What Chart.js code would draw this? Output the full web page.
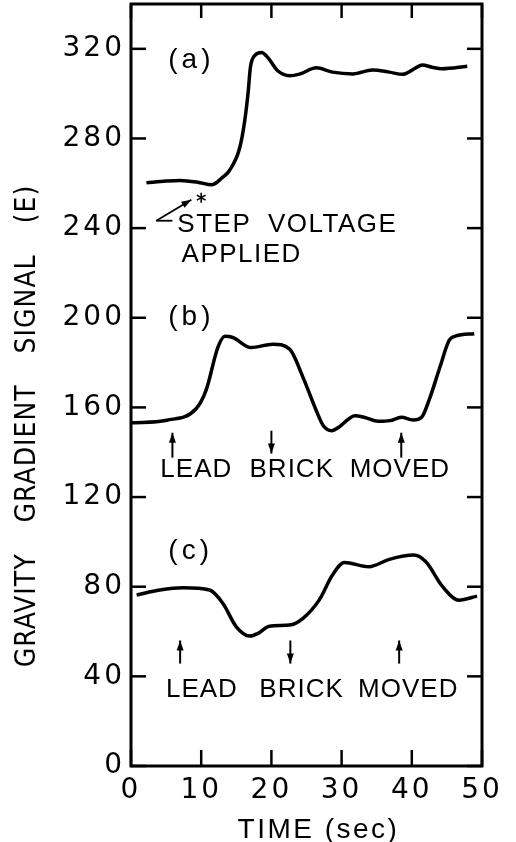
<!DOCTYPE html>
<html>
<head>
<meta charset="utf-8">
<script src="https://cdn.jsdelivr.net/npm/chart.js@4.4.1/dist/chart.umd.min.js"></script>
<style>
  html, body { margin: 0; padding: 0; background: #fff; }
  canvas { display: block; }
</style>
</head>
<body>
<canvas id="gradient-chart" width="516" height="842"></canvas>
<script>
// time axis (sec) and signal (E) for the three traces
const timeA = [2.2, 5, 7, 9.5, 11.5, 13, 14, 15.5, 16.2, 16.7, 17.0, 17.6, 18.6, 19.5, 20.9, 22.6, 24.0, 26.4, 28.7, 31.6, 34.4, 36.8, 38.7, 40.1, 41.5, 42.9, 44.3, 47.9];
const signalA = [260.2, 261, 261.3, 260.5, 259.3, 262.5, 265.6, 276, 287.9, 301, 311.6, 316.9, 318.4, 316.1, 310.2, 308, 308.7, 311.5, 309.6, 308.8, 310.6, 309.6, 308.6, 310.6, 312.8, 311.8, 311.1, 312.2];

const timeB = [0, 5.1, 9.3, 10.7, 12.4, 13.4, 14.5, 17.1, 20.2, 22.6, 24.5, 26.4, 27.4, 28.6, 29.7, 31.9, 33.3, 35.2, 36.9, 38.5, 40.2, 41.4, 42.6, 44.0, 45.3, 46.3, 48.9];
const signalB = [153.1, 154.3, 159.5, 167.7, 187, 191.7, 191.2, 186.7, 188.2, 186, 173.4, 158.5, 151.8, 149.6, 151.4, 156.3, 155.5, 153.8, 154.1, 155.6, 154.4, 155.6, 164.5, 177.9, 189.8, 191.9, 192.9];

const timeC = [0.8, 4.1, 7.4, 11.2, 13.1, 15, 16.9, 18.1, 19.7, 22.6, 24.5, 26.8, 28.7, 30.4, 33.9, 36.8, 40.3, 42, 44.4, 46.7, 49.3];
const signalC = [76.3, 78.5, 79.5, 78.5, 72.5, 62.1, 58, 59.2, 62.4, 62.9, 65.9, 74, 85.2, 90.8, 88.9, 92.2, 94.1, 91.1, 80, 74, 75.8];

const xTicks = [0, 10, 20, 30, 40, 50];
const yTicks = [0, 40, 80, 120, 160, 200, 240, 280, 320];

// when the lead brick was moved, per trace
const brickTimesB = [5.9, 20.0, 38.5];
const brickTimesC = [7.0, 22.7, 38.2];
const brickDirs = ['up', 'down', 'up'];

const toPoints = (xs, ys) => xs.map((x, i) => ({ x: x, y: ys[i] }));

const labelFont = '26px "Liberation Sans", Arial, sans-serif';

const frameAndNotes = {
  id: 'frameAndNotes',
  beforeDraw(chart) {
    chart.ctx.letterSpacing = '3px';
  },
  afterDraw(chart) {
    const c = chart.ctx;
    const xs = chart.scales.x;
    const ys = chart.scales.y;
    const a = chart.chartArea;
    const X = t => xs.getPixelForValue(t);
    const Y = v => ys.getPixelForValue(v);

    c.save();
    c.letterSpacing = '0px';
    c.strokeStyle = '#000';
    c.fillStyle = '#000';

    const line = (x1, y1, x2, y2) => {
      c.beginPath(); c.moveTo(x1, y1); c.lineTo(x2, y2); c.stroke();
    };
    const arrow = (x1, y1, x2, y2) => {
      line(x1, y1, x2, y2);
      const ang = Math.atan2(y2 - y1, x2 - x1);
      c.beginPath();
      c.moveTo(x2, y2);
      c.lineTo(x2 - 10 * Math.cos(ang) + 3.5 * Math.sin(ang), y2 - 10 * Math.sin(ang) - 3.5 * Math.cos(ang));
      c.lineTo(x2 - 10 * Math.cos(ang) - 3.5 * Math.sin(ang), y2 - 10 * Math.sin(ang) + 3.5 * Math.cos(ang));
      c.closePath();
      c.fill();
    };

    // box and inward ticks
    c.lineWidth = 3;
    c.strokeRect(a.left, a.top, a.right - a.left, a.bottom - a.top);
    c.lineWidth = 2.5;
    yTicks.forEach(v => {
      line(a.left, Y(v), a.left + 15, Y(v));
      line(a.right, Y(v), a.right - 15, Y(v));
    });
    xTicks.forEach(t => {
      line(X(t), a.bottom, X(t), a.bottom - 16);
      line(X(t), a.top, X(t), a.top + 14);
    });

    // panel letters
    c.font = '28px "Liberation Sans", Arial, sans-serif';
    c.textAlign = 'center';
    c.textBaseline = 'middle';
    c.letterSpacing = '4px';
    c.fillText('(a)', X(8.6), Y(315));
    c.fillText('(b)', X(8.6), Y(200));
    c.fillText('(c)', X(8.5), Y(95.7));

    // step voltage note
    c.font = labelFont;
    c.textAlign = 'left';
    c.letterSpacing = '1.5px';
    c.wordSpacing = '8px';
    c.fillText('STEP VOLTAGE', X(6.6), Y(241.5));
    c.fillText('APPLIED', X(7.2), Y(228));
    c.wordSpacing = '0px';
    c.lineWidth = 1.8;
    line(X(3.6), Y(243.3), X(5.9), Y(243.3));
    arrow(X(3.6), Y(243.3), X(8.6), Y(252.7));
    // asterisk
    const ax = X(10.0), ay = Y(253.6);
    c.lineWidth = 1.6;
    for (let k = 0; k < 3; k++) {
      const th = Math.PI / 2 + k * Math.PI / 3;
      line(ax - 5 * Math.cos(th), ay - 5 * Math.sin(th), ax + 5 * Math.cos(th), ay + 5 * Math.sin(th));
    }

    // lead brick notes
    c.textAlign = 'center';
    c.letterSpacing = '1px';
    const words = ['LEAD', 'BRICK', 'MOVED'];
    [9.3, 22.9, 38.3].forEach((t, i) => c.fillText(words[i], X(t), Y(132)));
    [10.1, 24.3, 39.5].forEach((t, i) => c.fillText(words[i], X(t), Y(33.9)));
    c.lineWidth = 2;
    brickTimesB.forEach((t, i) => {
      if (brickDirs[i] === 'up') arrow(X(t), Y(137.6), X(t), Y(148.7));
      else arrow(X(t), Y(149.6), X(t), Y(139.4));
    });
    brickTimesC.forEach((t, i) => {
      if (brickDirs[i] === 'up') arrow(X(t), Y(45.7), X(t), Y(56));
      else arrow(X(t), Y(56), X(t), Y(45.7));
    });

    // axis titles
    c.font = '28px "Liberation Sans", Arial, sans-serif';
    c.letterSpacing = '2.5px';
    c.fillText('TIME (sec)', 318.5, 830);

    c.translate(28, 426);
    c.rotate(-Math.PI / 2);
    c.font = '28px "Liberation Sans Narrow", "DejaVu Sans Condensed", sans-serif';
    c.letterSpacing = '1px';
    c.wordSpacing = '22px';
    c.fillText('GRAVITY GRADIENT SIGNAL (E)', 0, 0);
    c.restore();
  }
};

const ctx = document.getElementById('gradient-chart').getContext('2d');
const chart = new Chart(ctx, {
  type: 'line',
  data: {
    datasets: [
      { data: toPoints(timeA, signalA) },
      { data: toPoints(timeB, signalB) },
      { data: toPoints(timeC, signalC) }
    ]
  },
  options: {
    responsive: false,
    animation: false,
    layout: { padding: { top: 4, right: 34, bottom: 0, left: 0 } },
    plugins: { legend: { display: false }, tooltip: { enabled: false } },
    elements: {
      point: { radius: 0 },
      line: { borderWidth: 3.5, borderColor: '#000', cubicInterpolationMode: 'monotone', fill: false }
    },
    scales: {
      x: {
        type: 'linear', min: 0, max: 50,
        afterFit(s) { s.height = 76; s.paddingLeft = 0; s.paddingRight = 0; },
        afterBuildTicks(s) { s.ticks = xTicks.map(v => ({ value: v })); },
        grid: { display: false, drawTicks: false },
        border: { display: false },
        ticks: { color: '#000', padding: 8, maxRotation: 0, font: { family: 'DejaVu Sans', size: 28 } }
      },
      y: {
        type: 'linear', min: 0, max: 340,
        afterFit(s) { s.width = 131; s.paddingTop = 0; s.paddingBottom = 0; },
        afterBuildTicks(s) { s.ticks = yTicks.map(v => ({ value: v })); },
        grid: { display: false, drawTicks: false },
        border: { display: false },
        ticks: { color: '#000', padding: 6, font: { family: 'DejaVu Sans', size: 28 } }
      }
    }
  },
  plugins: [frameAndNotes]
});
</script>
</body>
</html>
